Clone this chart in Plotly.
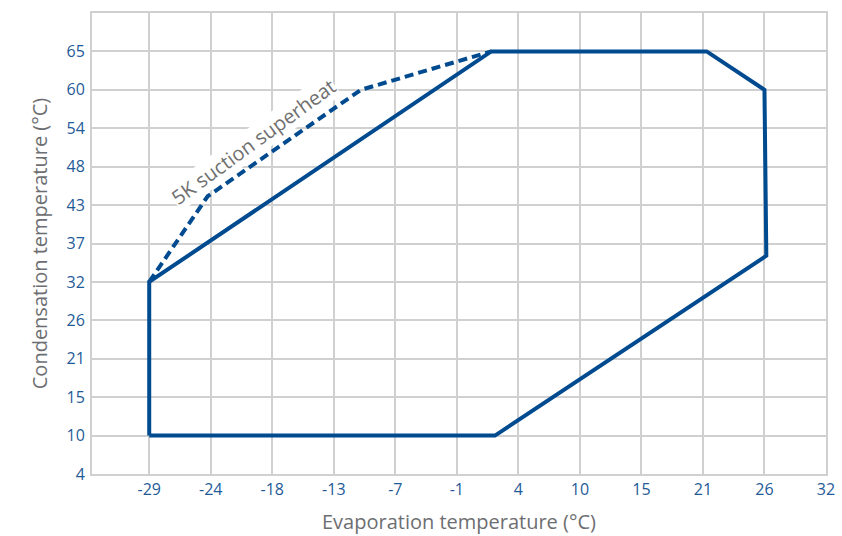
import plotly.graph_objects as go

# Axis positions are on a Fahrenheit scale; labels are shown in °C (as in the reference)
x_tick_pos = [-20, -10, 0, 10, 20, 30, 40, 50, 60, 70, 80, 90]
x_tick_labels = ["-29", "-24", "-18", "-13", "-7", "-1", "4", "10", "15", "21", "26", "32"]
y_tick_pos = [40, 50, 60, 70, 80, 90, 100, 110, 120, 130, 140, 150]
y_tick_labels = ["4", "10", "15", "21", "26", "32", "37", "43", "48", "54", "60", "65"]

# Operating envelope (closed polygon)
envelope_evap = [-20, 36.2, 80.3, 80.0, 70.6, 35.6, -20, -20]
envelope_cond = [50, 50, 96.8, 140, 150, 150, 90, 50]

# 5K suction superheat limit (dashed)
superheat_evap = [-20, -10.5, 14.4, 35.6]
superheat_cond = [90, 112.3, 140, 150]

line_color = "#004a8f"
grid_color = "#d0d0d0"
tick_color = "#1f5b98"
title_color = "#6d6e71"

fig = go.Figure()
fig.add_trace(go.Scatter(
    x=envelope_evap, y=envelope_cond, mode="lines",
    line=dict(color=line_color, width=4), showlegend=False, hoverinfo="skip"))
fig.add_trace(go.Scatter(
    x=superheat_evap, y=superheat_cond, mode="lines",
    line=dict(color=line_color, width=4, dash="9px,5px"), showlegend=False, hoverinfo="skip"))

fig.add_annotation(
    x=-3.0, y=126.5, xref="x", yref="y", text="5K suction superheat",
    showarrow=False, textangle=-36, bgcolor="white", borderpad=0,
    font=dict(family="Open Sans", size=20, color="#707070"))

fig.update_xaxes(
    range=[-29.3, 90], tickmode="array", tickvals=x_tick_pos, ticktext=x_tick_labels,
    showgrid=True, gridcolor=grid_color, gridwidth=2,
    showline=True, linecolor=grid_color, linewidth=2, mirror=True,
    zeroline=False, ticks="", ticklen=0,
    tickfont=dict(family="Open Sans", size=16, color=tick_color),
    title=dict(text="Evaporation temperature (°C)", standoff=16,
               font=dict(family="Open Sans", size=20, color=title_color)))
fig.update_yaxes(
    range=[40, 160], tickmode="array", tickvals=y_tick_pos, ticktext=y_tick_labels,
    showgrid=True, gridcolor=grid_color, gridwidth=2,
    showline=True, linecolor=grid_color, linewidth=2, mirror=True,
    zeroline=False, ticks="", ticklen=0, ticklabelstandoff=2,
    tickfont=dict(family="Open Sans", size=16, color=tick_color),
    title=dict(text="Condensation temperature (°C)", standoff=14,
               font=dict(family="Open Sans", size=20, color=title_color)))

fig.update_layout(
    width=842, height=536,
    margin=dict(l=92, r=16, t=13, b=62, autoexpand=False),
    paper_bgcolor="white", plot_bgcolor="white",
    font=dict(family="Open Sans"))

fig.write_html("out.html", config={"displayModeBar": False},
               post_script="document.body.style.margin='0';")
